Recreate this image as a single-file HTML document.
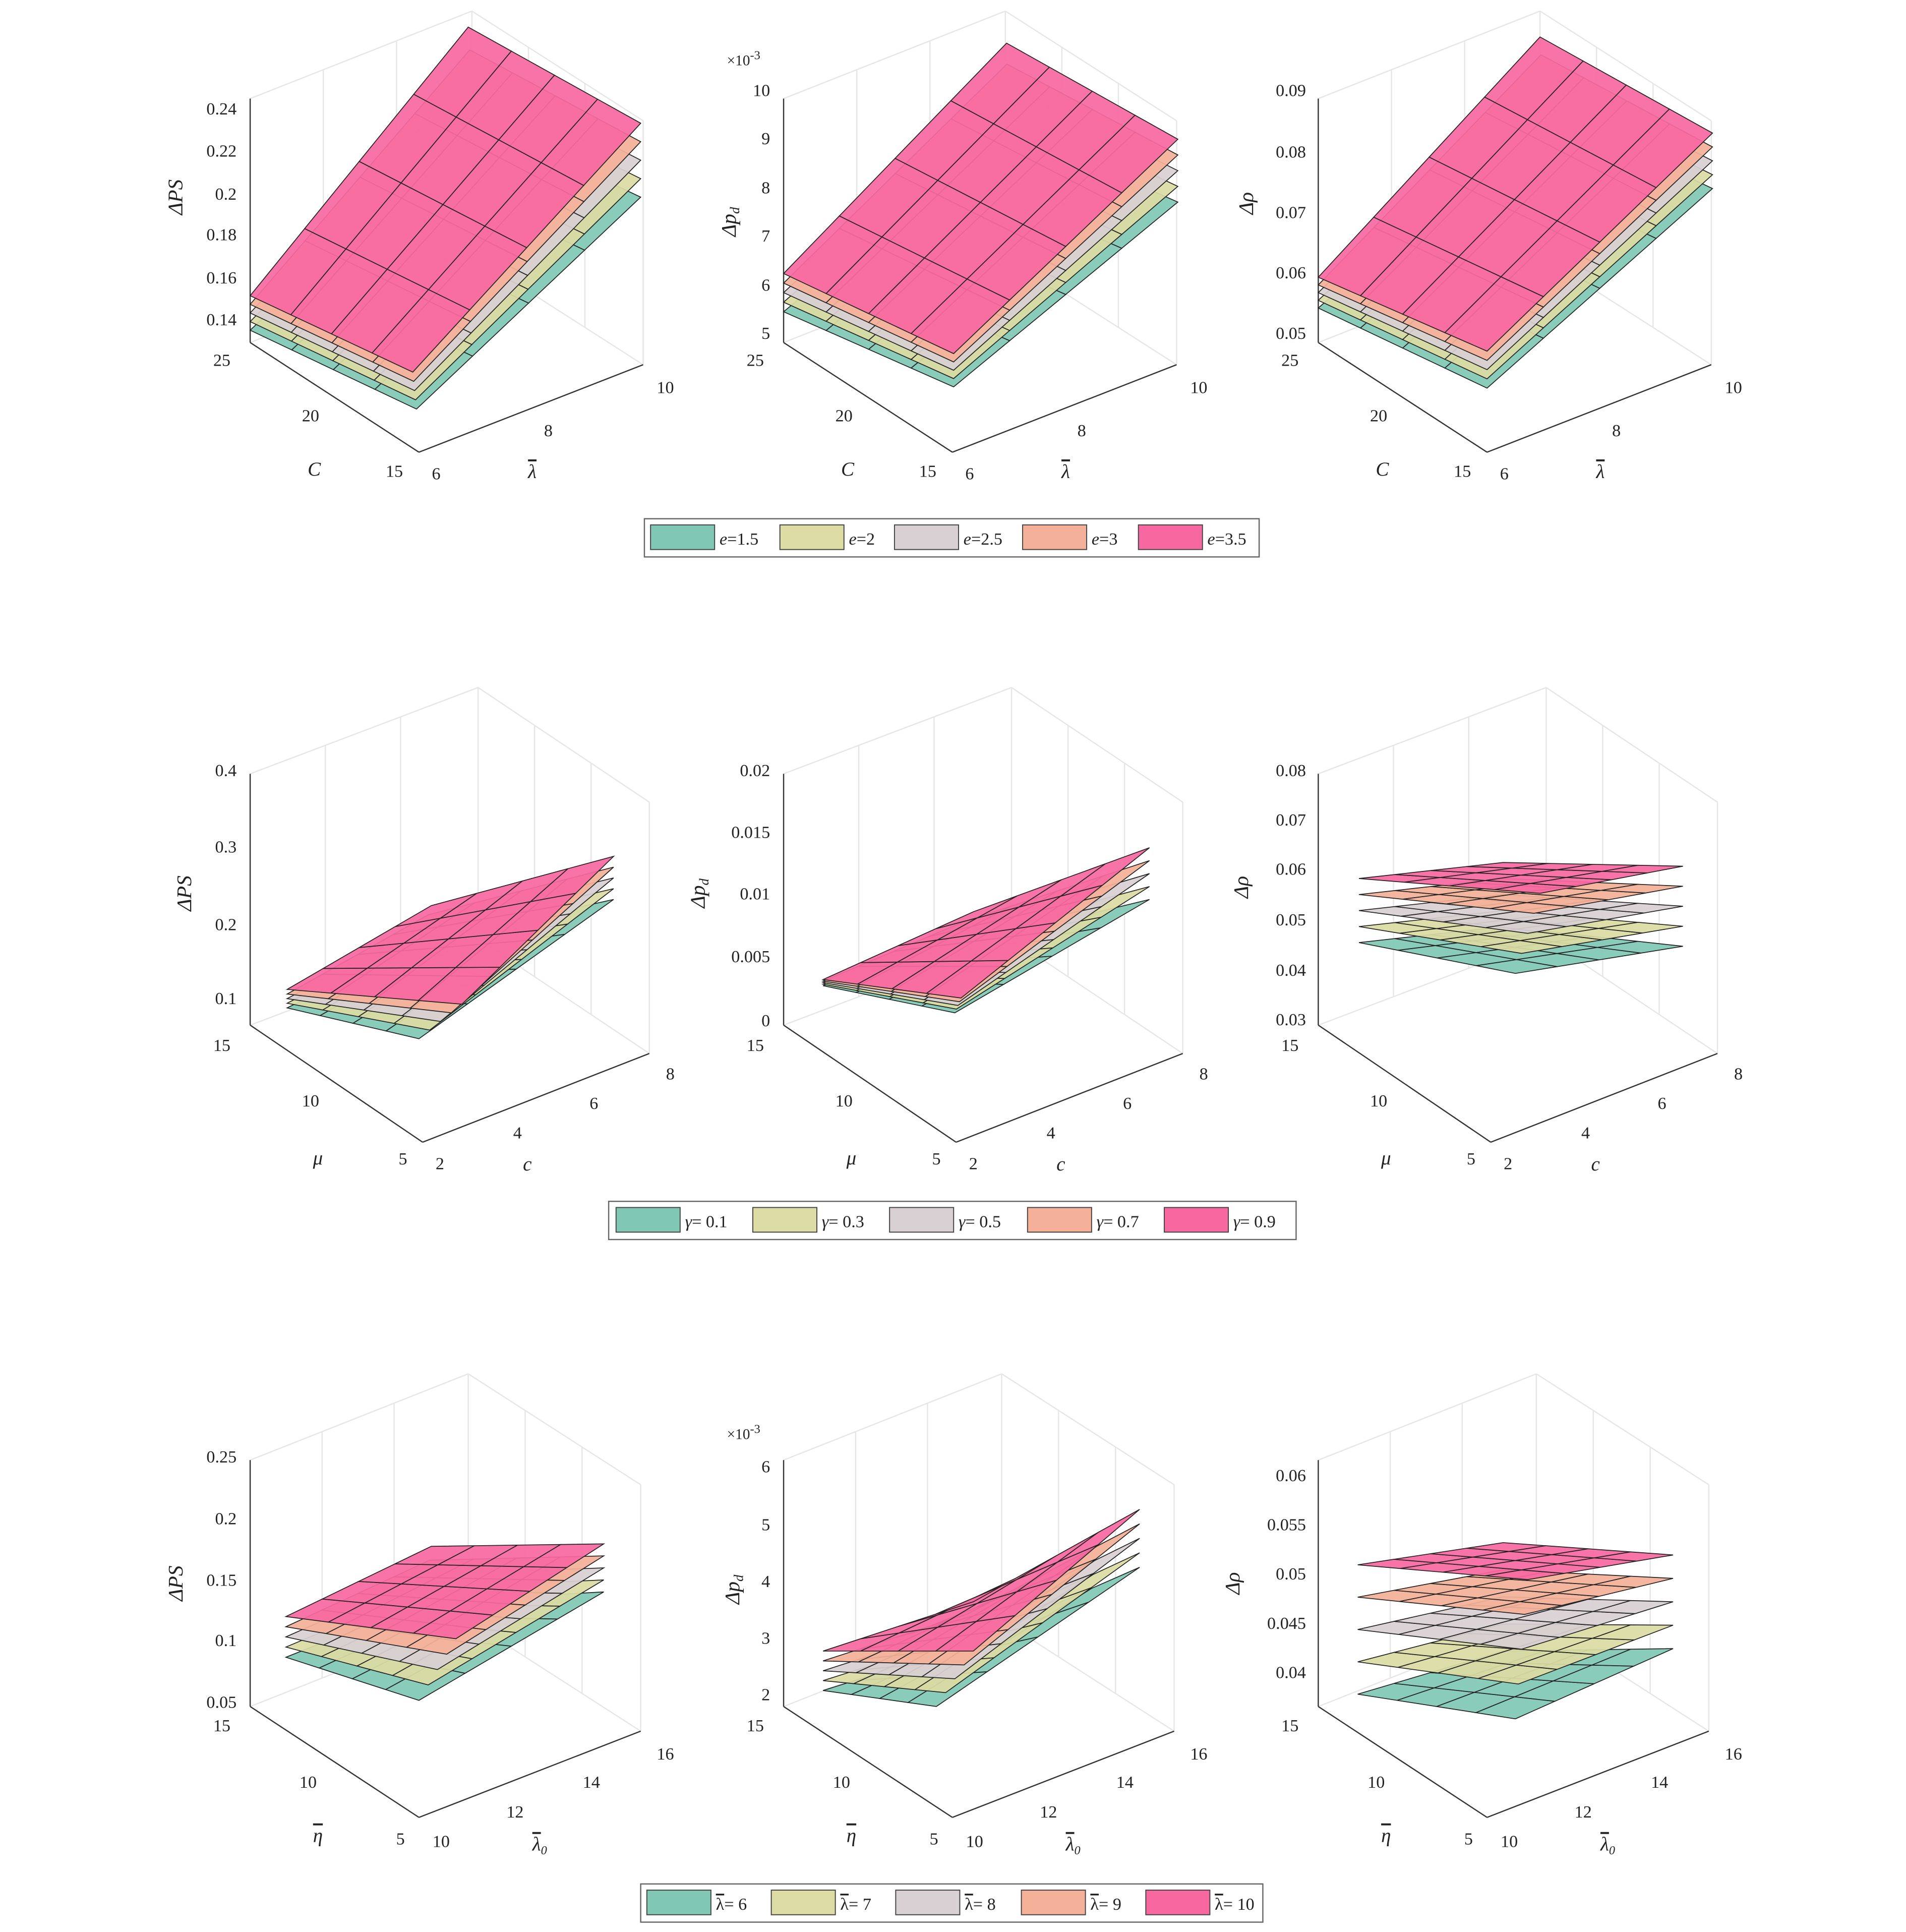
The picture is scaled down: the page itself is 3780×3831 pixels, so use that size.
<!DOCTYPE html>
<html><head><meta charset="utf-8"><style>html,body{margin:0;padding:0;background:#fff}svg{display:block}</style></head>
<body>
<svg id="s" xmlns="http://www.w3.org/2000/svg" width="3780" height="3831" viewBox="0 0 1547 1568" font-family="Liberation Serif, serif" font-size="14" fill="#222"></svg>
<script>
const S=document.getElementById('s');let h='';
const C=['#80c8b4','#dcdca4','#d8d0d2','#f4b098','#f868a0'];
function L(a,b,c,w){h+=`<line x1="${a[0]}" y1="${a[1]}" x2="${b[0]}" y2="${b[1]}" stroke="${c}" stroke-width="${w||1}"/>`;}
function T(x,y,t,anc,extra){h+=`<text x="${x}" y="${y}" text-anchor="${anc||'middle'}" ${extra||''}>${t}</text>`;}
function lerp(a,b,t){return [a[0]+(b[0]-a[0])*t,a[1]+(b[1]-a[1])*t];}
function bil(P,u,v){return lerp(lerp(P[0],P[1],u),lerp(P[3],P[2],u),v);}
function surf(P,col){const n=4;for(let i=0;i<n;i++)for(let j=0;j<n;j++){const a=bil(P,i/n,j/n),b=bil(P,(i+1)/n,j/n),c=bil(P,(i+1)/n,(j+1)/n),d=bil(P,i/n,(j+1)/n);
h+=`<polygon points="${a} ${b} ${c} ${d}" fill="${col}" fill-opacity="0.93" stroke="#222" stroke-width="0.7"/>`;}}
function layers(Pt,Pb){for(let k=0;k<5;k++){const t=k/4;surf([0,1,2,3].map(i=>lerp(Pb[i],Pt[i],t)),C[k]);}}
function box(Lp,F,R,B,H){const g='#e6e6e6';const up=p=>[p[0],p[1]-H];
L(up(Lp),up(B),g);L(up(B),up(R),g);L(B,up(B),g);L(R,up(R),g);L(Lp,B,g);L(B,R,g);
for(let t of [0.33,0.66]){L(lerp(Lp,B,t),up(lerp(Lp,B,t)),g);L(lerp(B,R,t),up(lerp(B,R,t)),g);}
L(Lp,up(Lp),'#333');L(Lp,F,'#333');L(F,R,'#333');}
const dx=[0,433,867];
const LB='<tspan style="text-decoration:overline">λ</tspan>';
const EB='<tspan style="text-decoration:overline">η</tspan>';
// top row
for(let p=0;p<3;p++){const o=dx[p];box([203+o,278],[340+o,367],[522+o,296],[383+o,207],198);
T(180+o,297,'25');T(252+o,342,'20');T(320+o,387,'15');T(255+o,386,'C','middle','font-style="italic" font-size="16"');
T(354+o,389,'6');T(445+o,354,'8');T(540+o,319,'10');T(432+o,388,LB,'middle','font-style="italic" font-size="16"');}
layers([[203,240],[380,22],[520,100],[335,302]],[[203,268],[385,96],[520,160],[338,332]]);
layers([[636,222],[817,35],[956,113],[774,287]],[[636,253],[818,103],[956,164],[774,314]]);
layers([[1070,225],[1250,30],[1390,108],[1207,285]],[[1070,250],[1253,88],[1390,153],[1207,315]]);
[[0.24,88],[0.22,122],[0.2,157],[0.18,190],[0.16,225],[0.14,259]].forEach(a=>T(192,a[1]+5,a[0],'end'));
[[10,73],[9,112],[8,152],[7,191],[6,231],[5,270]].forEach(a=>T(625,a[1]+5,a[0],'end'));
[[0.09,73],[0.08,123],[0.07,172],[0.06,221],[0.05,270]].forEach(a=>T(1060,a[1]+5,a[0],'end'));
T(590,53,'×10<tspan dy="-5" font-size="10">-3</tspan>','start','font-size="12"');
function yl(x,y,t){h+=`<text x="${x}" y="${y}" transform="rotate(-90 ${x} ${y})" text-anchor="middle" font-style="italic" font-size="17">${t}</text>`;}
yl(148,160,'ΔPS');yl(597,180,'Δp<tspan font-size="11" dy="3">d</tspan>');yl(1017,165,'Δρ');
function legend(x,y,w,items,xs){h+=`<rect x="${x}" y="${y}" width="${w}" height="31" fill="#fff" stroke="#666"/>`;
items.forEach((t,i)=>{h+=`<rect x="${xs[i]}" y="${y+5}" width="52" height="20" fill="${C[i]}" stroke="#444" stroke-width="0.8"/>`;T(xs[i]+56,y+21,t,'start','font-size="14"');});}
legend(523,421,499,['<tspan font-style="italic">e</tspan>=1.5','<tspan font-style="italic">e</tspan>=2','<tspan font-style="italic">e</tspan>=2.5','<tspan font-style="italic">e</tspan>=3','<tspan font-style="italic">e</tspan>=3.5'],[528,633,726,830,924]);
// middle row
for(let p=0;p<3;p++){const o=dx[p];box([203+o,832],[343+o,927],[527+o,855],[388+o,762],204);
T(180+o,853,'15');T(252+o,898,'10');T(327+o,945,'5');T(258+o,945,'μ','middle','font-style="italic" font-size="16"');
T(357+o,949,'2');T(420+o,924,'4');T(482+o,900,'6');T(544+o,876,'8');T(428+o,950,'c','middle','font-style="italic" font-size="16"');}
layers([[233,803],[350,735],[498,695],[375,815]],[[233,818],[340,765],[498,730],[340,843]]);
layers([[668,795],[790,740],[933,688],[780,810]],[[668,800],[760,772],[933,730],[775,822]]);
layers([[1103,713],[1220,700],[1366,703],[1250,725]],[[1103,765],[1220,752],[1366,768],[1230,790]]);
[[0.4,625],[0.3,687],[0.2,750],[0.1,810]].forEach(a=>T(192,a[1]+5,a[0],'end'));
[[0.02,625],[0.015,675],[0.01,725],[0.005,776],[0,828]].forEach(a=>T(625,a[1]+5,a[0],'end'));
[[0.08,625],[0.07,665],[0.06,705],[0.05,746],[0.04,787],[0.03,827]].forEach(a=>T(1060,a[1]+5,a[0],'end'));
yl(155,725,'ΔPS');yl(572,725,'Δp<tspan font-size="11" dy="3">d</tspan>');yl(1013,720,'Δρ');
legend(494,975,558,['<tspan font-style="italic">γ</tspan>= 0.1','<tspan font-style="italic">γ</tspan>= 0.3','<tspan font-style="italic">γ</tspan>= 0.5','<tspan font-style="italic">γ</tspan>= 0.7','<tspan font-style="italic">γ</tspan>= 0.9'],[500,611,722,834,945]);
// bottom row
for(let p=0;p<3;p++){const o=dx[p];box([203+o,1385],[340+o,1475],[520+o,1405],[380+o,1315],200);
T(180+o,1405,'15');T(250+o,1451,'10');T(325+o,1497,'5');T(258+o,1495,EB,'middle','font-style="italic" font-size="16"');
T(358+o,1499,'10');T(418+o,1475,'12');T(480+o,1451,'14');T(540+o,1428,'16');T(438+o,1502,LB+'<tspan font-size="10" dy="3">0</tspan>','middle','font-style="italic" font-size="16"');}
layers([[232,1312],[350,1255],[490,1253],[370,1330]],[[232,1345],[345,1300],[490,1292],[340,1380]]);
layers([[668,1340],[790,1300],[925,1225],[790,1340]],[[668,1372],[770,1340],[925,1272],[760,1385]]);
layers([[1102,1270],[1220,1252],[1358,1262],[1240,1282]],[[1102,1375],[1220,1340],[1358,1338],[1230,1395]]);
[[0.25,1182],[0.2,1232],[0.15,1282],[0.1,1331],[0.05,1381]].forEach(a=>T(192,a[1]+5,a[0],'end'));
[[6,1190],[5,1237],[4,1283],[3,1329],[2,1375]].forEach(a=>T(625,a[1]+5,a[0],'end'));
[[0.06,1197],[0.055,1237],[0.05,1277],[0.045,1317],[0.04,1357]].forEach(a=>T(1060,a[1]+5,a[0],'end'));
T(590,1168,'×10<tspan dy="-5" font-size="10">-3</tspan>','start','font-size="12"');
yl(148,1285,'ΔPS');yl(600,1290,'Δp<tspan font-size="11" dy="3">d</tspan>');yl(1006,1285,'Δρ');
legend(520,1529,505,[LB+'= 6',LB+'= 7',LB+'= 8',LB+'= 9',LB+'= 10'],[525,626,727,829,930]);
S.innerHTML=h;
</script>
</body></html>
